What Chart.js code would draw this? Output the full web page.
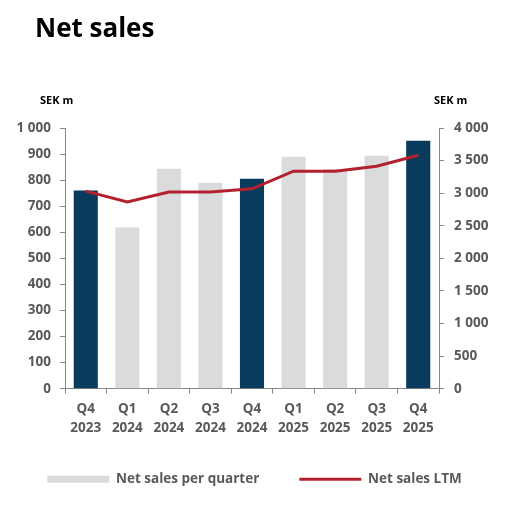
<!DOCTYPE html>
<html lang="en">
<head>
    <meta charset="UTF-8">
    <title>Net sales</title>
    <style>
        html, body {
            margin: 0;
            padding: 0;
            background: #ffffff;
        }
        .container {
            position: relative;
            width: 509px;
            height: 507px;
        }
    </style>
    <script src="https://cdn.jsdelivr.net/npm/chart.js"></script>
</head>
<body>
    <div class="container">
        <canvas id="salesChart" width="509" height="507"></canvas>
    </div>

    <script>
        // Data
        const quarters = [
            ['Q4', '2023'], ['Q1', '2024'], ['Q2', '2024'], ['Q3', '2024'], ['Q4', '2024'],
            ['Q1', '2025'], ['Q2', '2025'], ['Q3', '2025'], ['Q4', '2025']
        ];
        const salesPerQuarter = [760, 618, 844, 790, 805, 890, 843, 894, 951];
        const salesLTM = [3032, 2864, 3017, 3017, 3067, 3338, 3338, 3414, 3583];
        const seriesNames = ['Net sales per quarter', 'Net sales LTM'];
        const chartTitle = 'Net sales';
        const unitLabel = 'SEK m';

        const navy = '#083b5c';
        const grey = '#dadbdd';
        const red = '#b3202e';
        const tickGrey = '#595959';
        const axisGrey = '#868686';
        const fontFamily = '"Open Sans", Arial, sans-serif';

        // Q4 bars are dark, the rest grey
        const barColors = quarters.map(q => q[0] === 'Q4' ? navy : grey);

        function formatThousands(v) {
            return v.toString().replace(/\B(?=(\d{3})+(?!\d))/g, ' ');
        }

        // Title and unit labels
        const textPlugin = {
            id: 'extraText',
            afterDraw(chart) {
                const ctx = chart.ctx;
                ctx.save();
                ctx.fillStyle = '#000000';
                ctx.textBaseline = 'alphabetic';
                ctx.textAlign = 'left';
                ctx.font = 'bold 26px ' + fontFamily;
                ctx.fillText(chartTitle, 35, 37);
                ctx.font = 'bold 11px ' + fontFamily;
                ctx.fillText(unitLabel, 40, 104);
                ctx.fillText(unitLabel, 434, 104);
                ctx.restore();
            }
        };

        const ctx = document.getElementById('salesChart').getContext('2d');
        new Chart(ctx, {
            data: {
                labels: quarters,
                datasets: [{
                    type: 'bar',
                    label: seriesNames[0],
                    data: salesPerQuarter,
                    backgroundColor: barColors,
                    borderWidth: 0,
                    barPercentage: 0.58,
                    categoryPercentage: 1,
                    pointStyle: 'rect',
                    yAxisID: 'y',
                    order: 1
                }, {
                    type: 'line',
                    label: seriesNames[1],
                    data: salesLTM,
                    borderColor: red,
                    backgroundColor: red,
                    borderWidth: 3,
                    pointRadius: 0,
                    pointStyle: 'line',
                    tension: 0,
                    yAxisID: 'y1',
                    order: 0
                }]
            },
            options: {
                responsive: false,
                animation: false,
                layout: {
                    padding: { top: 128, left: 0, right: 0, bottom: 11 }
                },
                plugins: {
                    title: { display: false },
                    tooltip: { enabled: false },
                    legend: {
                        position: 'bottom',
                        labels: {
                            sort: (a, b) => a.datasetIndex - b.datasetIndex,
                            usePointStyle: true,
                            pointStyleWidth: 62,
                            boxHeight: 7,
                            padding: 40,
                            color: tickGrey,
                            font: { family: fontFamily, size: 13.5, weight: 'bold' },
                            generateLabels(chart) {
                                const items = Chart.defaults.plugins.legend.labels.generateLabels(chart);
                                return items.map(item => {
                                    if (item.datasetIndex === 0) {
                                        item.fillStyle = grey;
                                        item.strokeStyle = grey;
                                        item.lineWidth = 0;
                                    }
                                    return item;
                                });
                            }
                        }
                    }
                },
                scales: {
                    x: {
                        offset: true,
                        afterFit(scale) { scale.height = scale.height - 11; },
                        grid: {
                            offset: true,
                            drawOnChartArea: false,
                            drawTicks: true,
                            tickLength: 5,
                            color: axisGrey
                        },
                        border: { display: true, color: axisGrey, width: 1 },
                        ticks: {
                            color: tickGrey,
                            padding: 6,
                            maxRotation: 0,
                            autoSkip: false,
                            font: { family: fontFamily, size: 13.5, weight: 'bold', lineHeight: 1.4 }
                        }
                    },
                    y: {
                        position: 'left',
                        min: 0,
                        max: 1000,
                        afterFit(scale) { scale.width = 65; },
                        grid: {
                            drawOnChartArea: false,
                            drawTicks: true,
                            tickLength: 5,
                            color: axisGrey
                        },
                        border: { display: true, color: axisGrey, width: 1 },
                        ticks: {
                            stepSize: 100,
                            color: tickGrey,
                            padding: 9,
                            font: { family: fontFamily, size: 13.5, weight: 'bold' },
                            callback: v => formatThousands(v)
                        }
                    },
                    y1: {
                        position: 'right',
                        min: 0,
                        max: 4000,
                        afterFit(scale) { scale.width = 70; },
                        grid: {
                            drawOnChartArea: false,
                            drawTicks: true,
                            tickLength: 5,
                            color: axisGrey
                        },
                        border: { display: true, color: axisGrey, width: 1 },
                        ticks: {
                            stepSize: 500,
                            color: tickGrey,
                            padding: 10,
                            font: { family: fontFamily, size: 13.5, weight: 'bold' },
                            callback: v => formatThousands(v)
                        }
                    }
                }
            },
            plugins: [textPlugin]
        });
    </script>
</body>
</html>
